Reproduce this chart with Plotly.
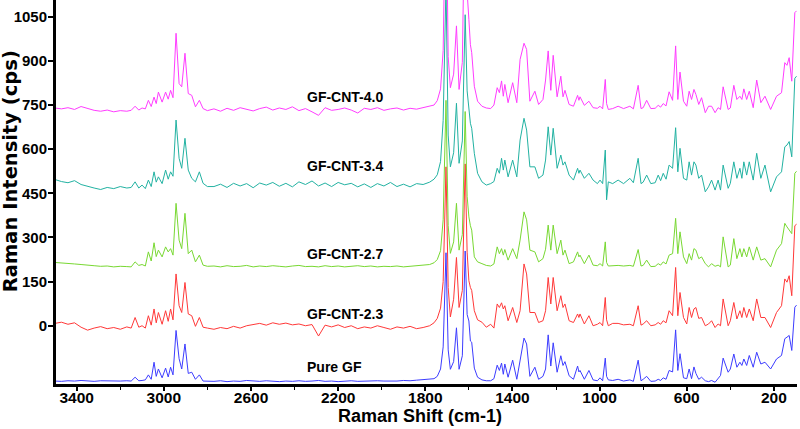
import plotly.graph_objects as go

# ---------------- data ----------------
# Raman shift sampling points (cm-1)
shift = [
    3500, 3470, 3440, 3410, 3380, 3350, 3320, 3290, 3260, 3230, 3200, 3170, 3150,
    3132, 3115, 3100, 3085, 3071, 3058, 3045, 3035, 3025, 3008, 2992, 2980, 2969, 2958,
    2944, 2930, 2918, 2903, 2888, 2872, 2855, 2837, 2820, 2800,
    2770, 2740, 2710, 2680, 2650, 2620, 2590, 2560, 2530, 2500, 2470, 2440, 2410, 2380,
    2350, 2320, 2290, 2260, 2230, 2200, 2170, 2140, 2110, 2080, 2050, 2020, 1990, 1960,
    1930, 1900, 1870, 1840, 1810, 1780,
    1760, 1745, 1730, 1718, 1705, 1695, 1685, 1670, 1657, 1645, 1630, 1617, 1608, 1600,
    1593, 1587, 1575, 1560, 1540, 1520, 1500, 1485,
    1470, 1460, 1450, 1442, 1435, 1420, 1399, 1380, 1365, 1347,
    1335, 1320, 1297, 1280, 1260, 1248, 1236, 1224, 1213, 1195,
    1178, 1168, 1159, 1140, 1120, 1101, 1095, 1090, 1070, 1049,
    1030, 1010, 998, 986, 974, 968, 960, 940, 915, 890,
    861, 845, 823, 810, 800, 784, 765, 745, 731, 720,
    708, 695, 681, 665, 651, 641, 631, 615, 600, 589,
    578, 567, 558, 545, 532, 515, 500, 486, 470, 456,
    445, 433, 410, 400, 384, 370, 356, 347, 338, 325,
    313, 295, 279, 260, 241, 215, 188, 165, 150, 140,
    130, 118, 104, 96,
]

names = ["Pure GF", "GF-CNT-2.3", "GF-CNT-2.7", "GF-CNT-3.4", "GF-CNT-4.0"]
stack_offset = [-192, 0, 200, 478, 735]

pure_gf = [
    4, 3, 5, 4, 6, 4, 3, 5, 4, 3, 4, 5, 4,
    17, 5, 6, 8, 25, 10, 68, 20, 45, 15, 48, 18, 51, 25, 176, 80, 45, 130, 30, 34, 10, 25, 4, 3,
    3, 5, 2, 4, 3, 6, 4, 3, 5, 4, 2, 4, 3, 5, 3, 4, 6, 3, 4, 2, 4, 5, 3, 4, 3, 5, 4, 3, 4, 6, 5, 7, 8, 10,
    12, 20, 45, 120, 440, 110, 44, 70, 185, 44, 90, 446, 230, 208, 140, 136, 48, 17, 8, 5, 5, 12,
    58, 40, 65, 27, 62, 17, 75, 10, 80, 150,
    130, 20, 51, 10, 20, 45, 161, 55, 134, 34,
    90, 57, 70, 22, 10, 55, 35, 40, 10, 40,
    8, 5, 15, 5, 82, 20, 8, 6, 10, 4,
    8, 3, 75, 5, 10, 20, 3, 4, 10, 6,
    15, 10, 40, 35, 178, 40, 97, 15, 12, 45,
    12, 52, 30, 10, 17, 5, 2, 6, 0, 11,
    23, 82, 34, 45, 96, 51, 68, 57, 79, 57,
    91, 51, 102, 62, 68, 45, 79, 91, 148, 153,
    159, 108, 255, 262,
]

gf_cnt_23 = [
    8, 12, 5, 10, -5, -15, -8, -3, -10, -6, -12, -4, -8,
    28, -5, 0, -8, 34, 2, 57, 10, 45, 5, 51, 15, 57, 20, 176, 68, 45, 147, 40, 34, -2, 28, -5, -8,
    -12, -6, -10, -2, -8, 0, 4, 8, 2, 10, 5, 9, 3, 6, 0, 4, -35, 2, -4, 3,
    -6, 0, -10, -4, -8, 0, -6, -12, -4, -8, -2, -10, -6, 0,
    10, 25, 60, 150, 540, 130, 30, 90, 232, 62, 120, 550, 250, 153, 130, 120, 51, 20, 12, -5, 5, -8,
    74, 62, 78, 57, 68, 17, 62, 11, 51, 210,
    176, 45, 45, 11, 17, 51, 164, 74, 164, 51,
    102, 62, 74, 17, 11, 40, 28, 40, 6, 34,
    0, 5, 11, 0, 96, 20, 0, 8, 8, 3,
    5, 0, 68, 2, 6, 17, 0, 3, 11, 5,
    17, 10, 51, 34, 198, 34, 113, 28, 6, 62,
    28, 57, 62, 25, 28, 0, 6, 17, -6, 6,
    0, 91, 0, 17, 79, 23, 51, 28, 62, 28,
    57, 17, 91, 28, 28, -6, 45, 68, 159, 148,
    170, 102, 340, 345,
]

gf_cnt_27 = [
    15, 14, 12, 10, 8, 5, 4, 2, 3, 0, 2, 1, 0,
    17, 5, 8, 3, 51, 20, 82, 35, 57, 34, 68, 51, 62, 40, 216, 91, 62, 182, 45, 57, 17, 40, 6, 2,
    3, 0, 4, 1, 2, 5, 0, 3, 1, 4, 2, 0, 3, 5, 1, 2, 0, 4, 1, 3, 0, 2, 4, 1, 3, 0, 2, 1, 3, 0, 2, 4, 6, 8,
    14, 25, 55, 160, 566, 140, 46, 85, 216, 57, 110, 528, 240, 170, 140, 125, 34, 17, 11, 5, 3, 10,
    68, 45, 62, 40, 59, 23, 62, 28, 91, 187,
    160, 57, 51, 17, 28, 60, 142, 57, 142, 45,
    91, 40, 57, 11, 17, 51, 34, 40, 11, 40,
    6, 4, 11, 3, 85, 15, 3, 4, 5, 3,
    5, 2, 59, 3, 5, 23, 1, 2, 11, 6,
    17, 10, 40, 45, 165, 45, 119, 34, 11, 45,
    23, 62, 57, 28, 34, 11, 0, 11, 2, 6,
    0, 102, 0, 6, 96, 28, 62, 34, 62, 34,
    68, 23, 68, 23, 28, 0, 57, 79, 148, 136,
    125, 113, 318, 325,
]

gf_cnt_34 = [
    19, 12, 8, 15, 2, -5, -10, -15, -8, -12, -5, -10, -8,
    11, -10, 0, -12, 17, -5, 45, 10, 28, 5, 51, 20, 45, 30, 221, 91, 57, 159, 51, 23, 11, 45, 6, -5,
    -5, 3, -8, 6, -3, 5, -9, 7, 0, 9, -4, 6, -6, 11, 2, 14, -3, 7, -5, 9,
    1, 6, -6, 4, -8, 5, -3, 9, -5, 3, -6, 5, 2, 10,
    20, 35, 80, 220, 680, 170, 62, 110, 278, 74, 150, 579, 320, 260, 210, 193, 108, 40, 11, 0, 5, 12,
    57, 40, 91, 51, 85, 28, 85, 28, 153, 227,
    187, 62, 62, 23, 34, 85, 198, 102, 193, 57,
    102, 68, 79, 34, 17, 57, 40, 51, 23, 40,
    17, 5, 17, 5, 119, -50, 11, 5, 17, 5,
    23, 8, 91, 5, 10, 34, 5, 8, 34, 15,
    40, 20, 68, 57, 195, 45, 125, 23, 17, 79,
    34, 79, 68, 23, 34, -23, -6, 17, -17, 17,
    -17, 68, -11, 6, 79, 23, 57, 23, 79, 34,
    79, 17, 108, 23, 68, -23, 28, 45, 130, 136,
    148, 96, 363, 370,
]

gf_cnt_40 = [
    5, 2, 6, 0, 10, 3, -3, -6, -2, -8, -4, -6, -3,
    11, -2, 5, 2, 31, 10, 42, 20, 59, 25, 59, 35, 65, 40, 259, 88, 77, 191, 54, 48, 9, 31, 3, -4,
    2, -6, 4, -3, 6, 0, -5, 3, 8, -2, 5, 0, 9, -4, 3, -8, -20, 6, -3, 0,
    5, -2, -12, 4, 0, 6, -3, 2, 5, -2, 4, 1, 6, 10,
    15, 30, 70, 200, 800, 180, 74, 120, 284, 68, 160, 800, 400, 306, 220, 193, 79, 28, 11, 5, 3, 15,
    74, 57, 97, 45, 85, 23, 91, 23, 170, 225,
    204, 28, 62, 17, 34, 100, 199, 65, 184, 43,
    113, 43, 65, 17, 11, 48, 31, 43, 14, 28,
    6, 4, 11, 2, 102, 20, 0, 3, 11, 3,
    11, 2, 82, 3, 6, 31, 3, 4, 14, 8,
    20, 12, 60, 31, 216, 34, 127, 28, 11, 62,
    34, 68, 51, 17, 40, -11, 11, 11, -11, 6,
    0, 77, 0, 5, 82, 34, 45, 34, 70, 34,
    62, 6, 100, 23, 45, 0, 45, 57, 159, 150,
    176, 96, 329, 335,
]

spectra = [pure_gf, gf_cnt_23, gf_cnt_27, gf_cnt_34, gf_cnt_40]

x_tickvals = [3400, 3000, 2600, 2200, 1800, 1400, 1000, 600, 200]
y_tickvals = [0, 150, 300, 450, 600, 750, 900, 1050]

# ---------------- style ----------------
colors = ["#3c3cff", "#ff3838", "#78d832", "#22b2a2", "#ff3cff"]
label_y = [-139, 40, 244, 543, 778]
FONT = "Liberation Sans, Arial, sans-serif"

for s in spectra:
    assert len(s) == len(shift), (len(s), len(shift))

fig = go.Figure()
for name, vals, off, col in zip(names, spectra, stack_offset, colors):
    fig.add_trace(go.Scatter(
        x=shift, y=[off + v for v in vals], mode="lines", name=name,
        line=dict(color=col, width=1), hoverinfo="skip", showlegend=False,
    ))

for name, ly in zip(names, label_y):
    fig.add_annotation(x=2352, y=ly, text=name, showarrow=False, xanchor="left",
                       yanchor="middle",
                       font=dict(family=FONT, size=14, color="black", weight="bold"))

fig.add_annotation(xref="paper", yref="paper", x=-0.0614, y=0.553,
                   text="Raman Intensity (cps)", textangle=-90, showarrow=False,
                   xanchor="center", yanchor="middle",
                   font=dict(family="DejaVu Sans", size=19.5, color="black", weight="bold"))
fig.add_annotation(xref="paper", yref="paper", x=0.491, y=-0.084,
                   text="Raman Shift (cm-1)", showarrow=False,
                   xanchor="center", yanchor="middle",
                   font=dict(family=FONT, size=18, color="black", weight="bold"))

fig.update_layout(
    width=800, height=429,
    margin=dict(l=56, r=3, t=0, b=45, autoexpand=False),
    paper_bgcolor="white", plot_bgcolor="white",
    xaxis=dict(range=[3495, 94], tickvals=x_tickvals, showgrid=False, zeroline=False,
               automargin=False,
               showline=True, linecolor="black", linewidth=3,
               ticks="outside", ticklen=4, tickwidth=2, tickcolor="black",
               ticklabelstandoff=-7,
               minor=dict(ticks="outside", ticklen=3, tickwidth=1, tickcolor="black",
                          tick0=0, dtick=200),
               tickfont=dict(family=FONT, size=15.5, color="black", weight="bold")),
    yaxis=dict(range=[-198, 1107], tickvals=y_tickvals, showgrid=False, zeroline=False,
               automargin=False,
               showline=True, linecolor="black", linewidth=3,
               ticks="outside", ticklen=5, tickwidth=2, tickcolor="black",
               ticklabelstandoff=-2,
               tickfont=dict(family=FONT, size=15, color="black", weight="bold")),
)

fig.write_html("out.html", config={"displayModeBar": False},
               post_script="document.body.style.margin='0';document.body.style.padding='0';")
